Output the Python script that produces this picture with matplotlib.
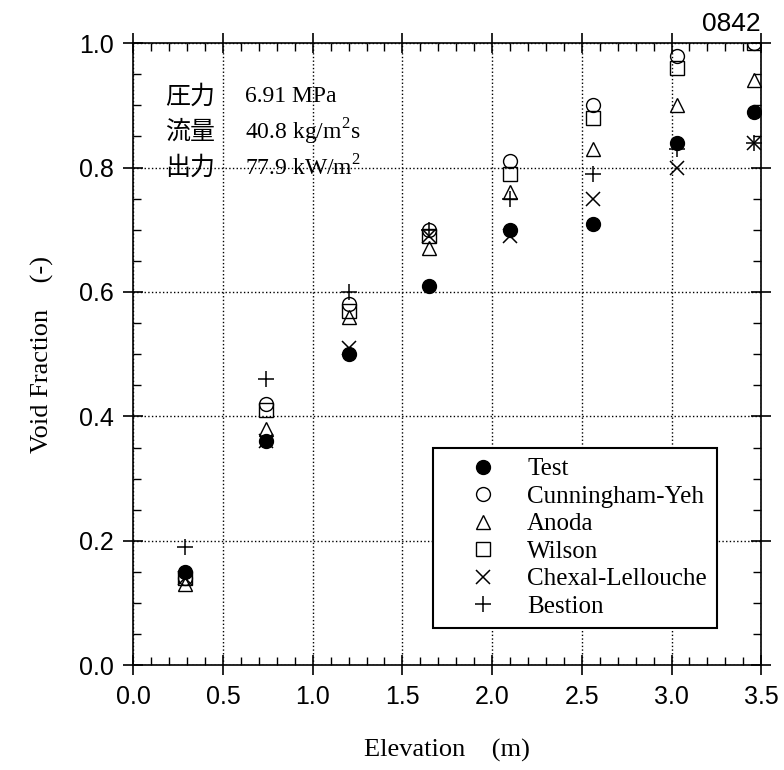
import numpy as np
import matplotlib
matplotlib.use('Agg')
import matplotlib.pyplot as plt
from matplotlib.ticker import MultipleLocator

# 測定位置 (m)
elev = [0.29, 0.74, 1.20, 1.65, 2.10, 2.56, 3.03, 3.46]

test = [0.15, 0.36, 0.50, 0.61, 0.70, 0.71, 0.84, 0.89]
cunningham = [0.14, 0.42, 0.58, 0.70, 0.81, 0.90, 0.98, 1.00]
anoda = [0.13, 0.38, 0.56, 0.67, 0.76, 0.83, 0.90, 0.94]
wilson = [0.14, 0.41, 0.57, 0.69, 0.79, 0.88, 0.96, 1.00]
chexal = [0.14, 0.36, 0.51, 0.69, 0.69, 0.75, 0.80, 0.84]
bestion = [0.19, 0.46, 0.60, 0.70, 0.75, 0.79, 0.83, 0.84]

xticks = [0.0, 0.5, 1.0, 1.5, 2.0, 2.5, 3.0, 3.5]
yticks = [0.0, 0.2, 0.4, 0.6, 0.8, 1.0]

cond_jp = ['圧力', '流量', '出力']
cond_val = ['6.91 MPa', r'40.8 kg/m$^2$s', r'77.9 kW/m$^2$']

serif = 'Liberation Serif'
plt.rcParams['mathtext.fontset'] = 'custom'
plt.rcParams['mathtext.rm'] = serif

fig = plt.figure(figsize=(7.84, 7.70), dpi=100)
ax = fig.add_axes([0.170, 0.136, 0.801, 0.808])

ms = 10
ax.plot(elev, test, 'o', color='k', ms=ms, label='Test')
ax.plot(elev, cunningham, 'o', mfc='none', mec='k', ms=ms, mew=1, label='Cunningham-Yeh')
ax.plot(elev, anoda, '^', mfc='none', mec='k', ms=ms, mew=1, label='Anoda')
ax.plot(elev, wilson, 's', mfc='none', mec='k', ms=ms, mew=1, label='Wilson')
ax.plot(elev, chexal, 'x', color='k', ms=ms, mew=1.1, label='Chexal-Lellouche')
ax.plot(elev, bestion, '+', color='k', ms=ms + 1, mew=1.1, label='Bestion')

ax.set_xlim(0, 3.5)
ax.set_ylim(0, 1.0)
ax.set_xticks(xticks)
ax.set_yticks(yticks)
ax.set_xticklabels(['%.1f' % v for v in xticks], family='Liberation Sans')
ax.set_yticklabels(['%.1f' % v for v in yticks], family='Liberation Sans')
ax.xaxis.set_minor_locator(MultipleLocator(0.1))
ax.yaxis.set_minor_locator(MultipleLocator(0.05))
ax.tick_params(which='major', direction='inout', length=14, width=1.2,
               top=True, right=True, labelsize=18, pad=7)
ax.tick_params(which='minor', direction='in', length=6, width=1,
               top=True, right=True)
for s in ax.spines.values():
    s.set_linewidth(1.2)
ax.grid(True, which='major', linestyle=':', color='k', linewidth=1)

ax.set_xlabel('Elevation    (m)', family=serif, fontsize=19, labelpad=22)
ax.set_ylabel('Void Fraction    (-)', family=serif, fontsize=19, labelpad=18)

for i in range(3):
    y = 0.914 - i * 0.057
    ax.text(0.051, y, cond_jp[i], transform=ax.transAxes, fontsize=18,
            family=['Noto Sans CJK JP'], va='center')
    ax.text(0.178, y, cond_val[i], transform=ax.transAxes, fontsize=17,
            family=serif, va='center')

leg = ax.legend(loc='lower left', bbox_to_anchor=(0.478, 0.06),
                prop={'family': serif, 'size': 18}, frameon=True,
                fancybox=False, edgecolor='k', framealpha=1,
                handletextpad=0.15, labelspacing=0.2, borderpad=0.4,
                handlelength=3.2, borderaxespad=0)
leg.get_frame().set_linewidth(1.5)

fig.text(0.97, 0.985, '0842', family='Liberation Sans', fontsize=19,
         ha='right', va='top')

fig.savefig('out.png', dpi=100)
